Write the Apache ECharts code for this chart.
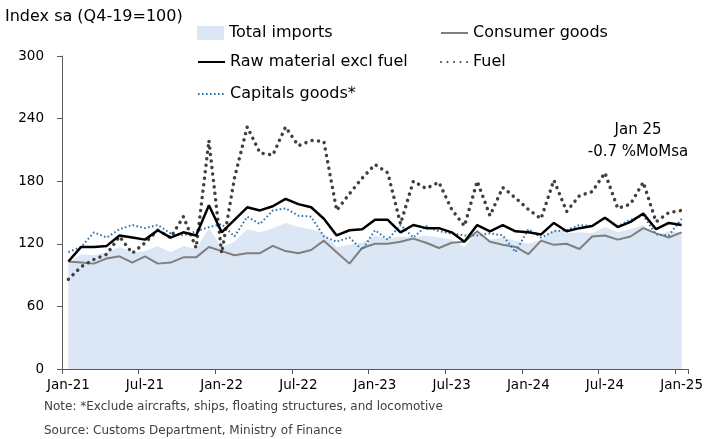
<!DOCTYPE html>
<html>
<head>
<meta charset="utf-8">
<script src="https://cdn.jsdelivr.net/npm/echarts@6/dist/echarts.min.js"></script>
<style>
html,body{margin:0;padding:0;background:#fff;}
#c{width:715px;height:439px;}
</style>
</head>
<body>
<div id="c"></div>
<script>
const months = ['Jan-21','Feb-21','Mar-21','Apr-21','May-21','Jun-21','Jul-21','Aug-21','Sep-21','Oct-21','Nov-21','Dec-21',
'Jan-22','Feb-22','Mar-22','Apr-22','May-22','Jun-22','Jul-22','Aug-22','Sep-22','Oct-22','Nov-22','Dec-22',
'Jan-23','Feb-23','Mar-23','Apr-23','May-23','Jun-23','Jul-23','Aug-23','Sep-23','Oct-23','Nov-23','Dec-23',
'Jan-24','Feb-24','Mar-24','Apr-24','May-24','Jun-24','Jul-24','Aug-24','Sep-24','Oct-24','Nov-24','Dec-24','Jan-25'];

const totalImports = [101,110,109,112,117,112,113,118,112,118,115,135,
117,122,134,131,135,140,136,134,130,117,119,121,
128,125,127,126,128,126,124,117,132,124,126,123,
120,124,134,130,131,130,136,131,134,138,128,132,131];

const consumerGoods = [103,102,101,106,108,102,108,101,102,107,107,117,
113,109,111,111,118,113,111,114,123,112,101,116,
120,120,122,125,121,116,121,122,132,122,119,117,
110,123,119,120,115,127,128,124,127,135,130,126,131];

const rawMaterial = [103,117,117,118,128,126,124,133,126,131,128,157,
131,143,155,152,156,163,158,155,144,128,133,134,
143,143,131,138,135,135,131,122,138,132,138,132,
131,129,140,132,135,137,145,136,141,149,134,140,138];

const fuel = [86,98,105,110,127,111,121,133,126,146,116,219,
111,183,232,207,205,232,214,219,218,152,168,183,
196,188,139,180,173,179,153,137,180,147,174,164,
153,144,181,151,166,170,188,154,158,179,141,150,152];

const capitalGoods = [112,117,131,126,134,138,135,138,130,128,132,136,
139,127,146,139,152,154,147,146,127,122,126,114,
133,124,138,126,137,132,130,128,128,130,128,112,
134,126,132,133,138,137,145,137,143,147,129,128,144];

const yTicks = {min:0, max:300, interval:60};

const FONT = 'DejaVu Sans';
const chart = echarts.init(document.getElementById('c'), null, {renderer:'canvas'});

function lg(name, left, top, extra){
  return Object.assign({
    show:true, left:left, top:top, orient:'horizontal', padding:0,
    itemWidth:27, itemHeight:14, itemGap:4,
    selectedMode:false,
    itemStyle:{opacity:0},
    textStyle:{fontFamily:FONT, fontSize:16, color:'#000'},
    data:[name]
  }, extra||{});
}

chart.setOption({
  animation:false,
  backgroundColor:'#fff',
  textStyle:{fontFamily:FONT},
  grid:{left:62, right:27, top:56, bottom:70, containLabel:false},
  legend:[
    lg('Total imports',197,25,{itemStyle:{opacity:1}, data:[{name:'Total imports', icon:'rect', itemStyle:{color:'#dbe7f5', opacity:1}}]}),
    lg('Consumer goods',440,25),
    lg('Raw material excl fuel',197,54),
    lg('Fuel',440,54),
    lg('Capitals goods*',197,86)
  ],
  xAxis:{
    type:'category', data:months, boundaryGap:true,
    axisLine:{show:true, lineStyle:{color:'#595959', width:1}},
    axisTick:{show:true, interval:5, length:5, inside:false, lineStyle:{color:'#595959'}},
    axisLabel:{interval:5, margin:9, fontFamily:FONT, fontSize:13.5, color:'#000'},
    splitLine:{show:false}
  },
  yAxis:{
    type:'value', min:yTicks.min, max:yTicks.max, interval:yTicks.interval,
    axisLine:{show:true, lineStyle:{color:'#595959', width:1}},
    axisTick:{show:true, length:5, inside:false, lineStyle:{color:'#595959'}},
    axisLabel:{margin:18, fontFamily:FONT, fontSize:13.5, color:'#000'},
    splitLine:{show:false}
  },
  graphic:[
    {type:'text', left:5, top:9, style:{text:'Index sa (Q4-19=100)', fontFamily:FONT, fontSize:16, fill:'#000'}},
    {type:'text', x:638, y:130, style:{text:'Jan 25', fontFamily:FONT, fontSize:15, fill:'#000', align:'center', verticalAlign:'middle'}},
    {type:'text', x:638, y:152, style:{text:'-0.7 %MoMsa', fontFamily:FONT, fontSize:15, fill:'#000', align:'center', verticalAlign:'middle'}},
    {type:'text', left:44, top:401, style:{text:'Note: *Exclude aircrafts, ships, floating structures, and locomotive', fontFamily:FONT, fontSize:12, fill:'#404040'}},
    {type:'text', left:44, top:425, style:{text:'Source: Customs Department, Ministry of Finance', fontFamily:FONT, fontSize:12, fill:'#404040'}}
  ],
  series:[
    {name:'Total imports', type:'line', data:totalImports, symbol:'none', color:'#dbe7f5',
     lineStyle:{width:0, color:'#dbe7f5'}, areaStyle:{color:'#dbe7f5', opacity:1}, z:1},
    {name:'Consumer goods', type:'line', data:consumerGoods, symbol:'none', color:'#7f7f7f',
     lineStyle:{width:2, color:'#7f7f7f'}, z:2},
    {name:'Capitals goods*', type:'line', data:capitalGoods, symbol:'none', color:'#2e74b5',
     lineStyle:{width:2, color:'#2e74b5', type:[1.6,2.4]}, z:3},
    {name:'Fuel', type:'line', data:fuel, symbol:'none', color:'#404040',
     lineStyle:{width:3.5, color:'#404040', type:[0.01,6.5], cap:'round'}, z:4},
    {name:'Raw material excl fuel', type:'line', data:rawMaterial, symbol:'none', color:'#000',
     lineStyle:{width:2.5, color:'#000'}, z:5}
  ]
});
</script>
</body>
</html>
